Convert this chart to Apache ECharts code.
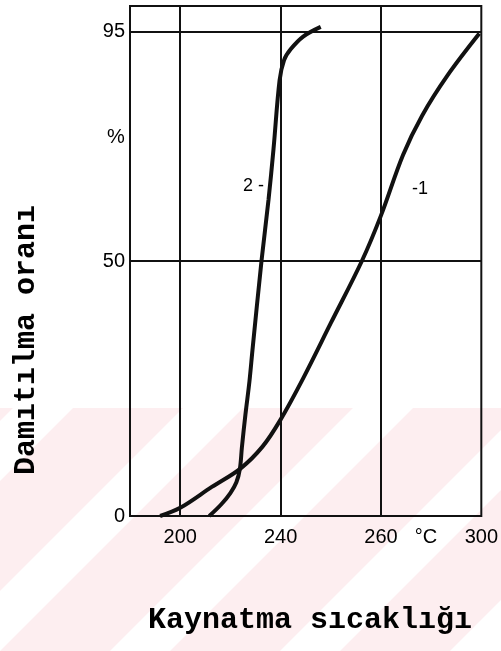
<!DOCTYPE html>
<html>
<head>
<meta charset="utf-8">
<script src="https://cdn.jsdelivr.net/npm/echarts@6/dist/echarts.min.js"></script>
<style>
html,body{margin:0;padding:0;background:#fff;}
#chart{width:501px;height:651px;}
</style>
</head>
<body>
<div id="chart"></div>
<script>
// x positions are measured in grid-cell units (0 = first vertical gridline "200")
const xTickLabels = ['200', '240', '260', '300'];
const yTickLabels = [0, 50, 95];
const xGridLines = [0, 1, 2];
const yGridLines = [50, 95];

const curve1X = [-0.20, 0.00, 0.315, 0.60, 0.82, 1.00, 1.225, 1.50, 1.81, 2.00, 2.22, 2.41, 2.66, 2.98];
const curve1Y = [0, 1.6, 5.7, 9.3, 13.6, 18.9, 27.0, 37.8, 50, 58.9, 70.8, 78.5, 86.3, 94.6];

const curve2X = [0.29, 0.41, 0.50, 0.56, 0.595, 0.615, 0.65, 0.69, 0.72, 0.81, 0.88, 0.93, 0.99, 1.035, 1.10, 1.225, 1.40];
const curve2Y = [0, 2.3, 4.5, 6.6, 9.3, 13.5, 19.9, 26.4, 32.5, 50, 62, 72, 85.4, 89.4, 91.5, 94.0, 95.9];

const curve1Label = '-1';
const curve2Label = '2 -';
const xTitle = 'Kaynatma sıcaklığı';
const yTitle = 'Damıtılma oranı';
const xUnit = '°C';
const yUnit = '%';

const zip = (xs, ys) => xs.map((x, i) => [x, ys[i]]);

const chart = echarts.init(document.getElementById('chart'), null, {renderer: 'canvas'});

// faint watermark stripes
const wm = [];
wm.push({type: 'rect', z: -10, shape: {x: 0, y: 408, width: 501, height: 243}, style: {fill: '#fdeef0'}});
for (let k = -3; k < 6; k++) {
  const x0 = -60 + k * 170;
  wm.push({type: 'polygon', z: -9, shape: {points: [[x0, 651], [x0 + 60, 651], [x0 + 60 + 243, 408], [x0 + 243, 408]]}, style: {fill: '#ffffff'}});
}

const tickFont = {fontFamily: 'Liberation Sans', fontSize: 20, color: '#000'};
const monoFont = {fontFamily: 'Liberation Mono', fontSize: 30, fontWeight: 'bold', color: '#111'};

chart.setOption({
  backgroundColor: '#ffffff',
  animation: false,
  grid: {left: 130, right: 11, top: 6, bottom: 135, show: true, borderColor: '#111', borderWidth: 2, backgroundColor: 'transparent'},
  xAxis: {
    type: 'value', min: -0.5, max: 3, interval: 0.5,
    axisLine: {show: false}, axisTick: {show: false}, splitLine: {show: false},
    axisLabel: Object.assign({
      margin: 11, showMaxLabel: true, showMinLabel: true,
      formatter: v => (Math.abs(v - Math.round(v)) < 1e-9 && v >= 0) ? xTickLabels[Math.round(v)] : ''
    }, tickFont)
  },
  yAxis: {
    type: 'value', min: 0, max: 100, interval: 5,
    axisLine: {show: false}, axisTick: {show: false}, splitLine: {show: false},
    axisLabel: Object.assign({
      margin: 5,
      formatter: v => yTickLabels.includes(v) ? String(v) : ''
    }, tickFont)
  },
  graphic: wm.concat([
    {type: 'text', x: 310, y: 620, style: Object.assign({text: xTitle, align: 'center', verticalAlign: 'middle'}, monoFont)},
    {type: 'text', rotation: Math.PI / 2, x: 26, y: 340, style: Object.assign({text: yTitle, align: 'center', verticalAlign: 'middle'}, monoFont)},
    {type: 'text', x: 426, y: 537, style: Object.assign({text: xUnit, align: 'center', verticalAlign: 'middle'}, tickFont)},
    {type: 'text', x: 116, y: 137, style: Object.assign({text: yUnit, align: 'center', verticalAlign: 'middle'}, tickFont, {fontSize: 20})},
    {type: 'text', x: 243, y: 186, style: Object.assign({text: curve2Label, align: 'left', verticalAlign: 'middle'}, tickFont, {fontSize: 18})},
    {type: 'text', x: 412, y: 189, style: Object.assign({text: curve1Label, align: 'left', verticalAlign: 'middle'}, tickFont, {fontSize: 18})}
  ]),
  series: [
    {
      type: 'line', name: '1', data: zip(curve1X, curve1Y), smooth: 0.35, showSymbol: false,
      lineStyle: {color: '#111', width: 4}, z: 5,
      markLine: {
        silent: true, symbol: ['none', 'none'], label: {show: false},
        lineStyle: {color: '#111', width: 2, type: 'solid'},
        data: xGridLines.map(x => ({xAxis: x})).concat(yGridLines.map(y => ({yAxis: y})))
      }
    },
    {
      type: 'line', name: '2', data: zip(curve2X, curve2Y), smooth: 0.35, showSymbol: false,
      lineStyle: {color: '#111', width: 4}, z: 5
    }
  ]
});
</script>
</body>
</html>
